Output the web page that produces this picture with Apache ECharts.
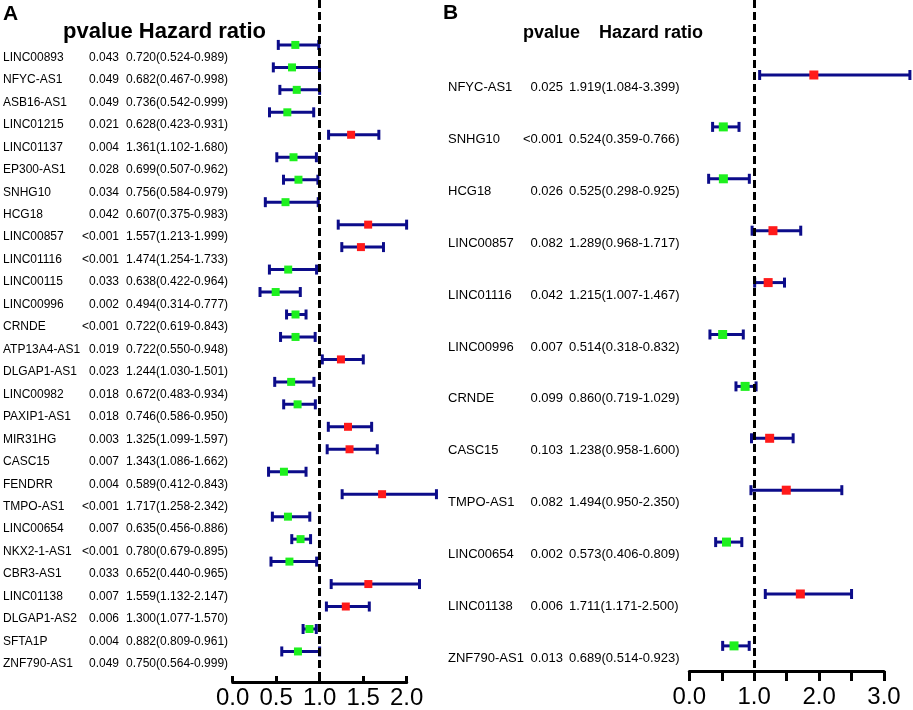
<!DOCTYPE html>
<html>
<head>
<meta charset="utf-8">
<script src="https://cdn.jsdelivr.net/npm/echarts@6/dist/echarts.min.js"></script>
<style>
html,body{margin:0;padding:0;background:#fff;}
#chart{width:913px;height:710px;}
</style>
</head>
<body>
<div id="chart"></div>
<script>
// ---------- Panel A data ----------
const genesA = ['LINC00893','NFYC-AS1','ASB16-AS1','LINC01215','LINC01137','EP300-AS1','SNHG10','HCG18','LINC00857','LINC01116','LINC00115','LINC00996','CRNDE','ATP13A4-AS1','DLGAP1-AS1','LINC00982','PAXIP1-AS1','MIR31HG','CASC15','FENDRR','TMPO-AS1','LINC00654','NKX2-1-AS1','CBR3-AS1','LINC01138','DLGAP1-AS2','SFTA1P','ZNF790-AS1'];
const pvalA = ['0.043','0.049','0.049','0.021','0.004','0.028','0.034','0.042','<0.001','<0.001','0.033','0.002','<0.001','0.019','0.023','0.018','0.018','0.003','0.007','0.004','<0.001','0.007','<0.001','0.033','0.007','0.006','0.004','0.049'];
const hrA   = [0.720,0.682,0.736,0.628,1.361,0.699,0.756,0.607,1.557,1.474,0.638,0.494,0.722,0.722,1.244,0.672,0.746,1.325,1.343,0.589,1.717,0.635,0.780,0.652,1.559,1.300,0.882,0.750];
const lowA  = [0.524,0.467,0.542,0.423,1.102,0.507,0.584,0.375,1.213,1.254,0.422,0.314,0.619,0.550,1.030,0.483,0.586,1.099,1.086,0.412,1.258,0.456,0.679,0.440,1.132,1.077,0.809,0.564];
const highA = [0.989,0.998,0.999,0.931,1.680,0.962,0.979,0.983,1.999,1.733,0.964,0.777,0.843,0.948,1.501,0.934,0.950,1.597,1.662,0.843,2.342,0.886,0.895,0.965,2.147,1.570,0.961,0.999];

// ---------- Panel B data ----------
const genesB = ['NFYC-AS1','SNHG10','HCG18','LINC00857','LINC01116','LINC00996','CRNDE','CASC15','TMPO-AS1','LINC00654','LINC01138','ZNF790-AS1'];
const pvalB = ['0.025','<0.001','0.026','0.082','0.042','0.007','0.099','0.103','0.082','0.002','0.006','0.013'];
const hrB   = [1.919,0.524,0.525,1.289,1.215,0.514,0.860,1.238,1.494,0.573,1.711,0.689];
const lowB  = [1.084,0.359,0.298,0.968,1.007,0.318,0.719,0.958,0.950,0.406,1.171,0.514];
const highB = [3.399,0.766,0.925,1.717,1.467,0.832,1.029,1.600,2.350,0.809,2.500,0.923];

const ticksA = [0, 0.5, 1, 1.5, 2];
const ticksB = [0, 0.5, 1, 1.5, 2, 2.5, 3];

const NAVY = '#0c0c8a', RED = '#ff1a1a', GREEN = '#1ef01e';
const FONT = '"Liberation Sans", Arial, Helvetica, sans-serif';

function fmtHR(h, l, u){ return h.toFixed(3) + '(' + l.toFixed(3) + '-' + u.toFixed(3) + ')'; }

function barData(hr, lo, hi){ return hr.map((h, i) => [i, h, lo[i], hi[i]]); }

function barRender(capH, size){
  return function(params, api){
    const i = api.value(0), hr = api.value(1), lo = api.value(2), hi = api.value(3);
    const pL = api.coord([lo, i]), pH = api.coord([hi, i]), pM = api.coord([hr, i]);
    const st = {stroke: NAVY, lineWidth: 3};
    return {type: 'group', children: [
      {type: 'line', shape: {x1: pL[0], y1: pL[1], x2: pH[0], y2: pH[1]}, style: st},
      {type: 'line', shape: {x1: pL[0], y1: pL[1] - capH/2, x2: pL[0], y2: pL[1] + capH/2}, style: st},
      {type: 'line', shape: {x1: pH[0], y1: pH[1] - capH/2, x2: pH[0], y2: pH[1] + capH/2}, style: st},
      {type: 'rect', shape: {x: pM[0] - size/2, y: pM[1] - size/2, width: size, height: size}, style: {fill: hr > 1 ? RED : GREEN}}
    ]};
  };
}

function textRender(genes, pv, hr, lo, hi, lay){
  return function(params, api){
    const i = api.value(1);
    const y = api.coord([0, i])[1] + lay.dy;
    const f = lay.size + 'px ' + FONT;
    return {type: 'group', children: [
      {type: 'text', style: {text: genes[i], x: lay.nameX, y: y, fill: '#000', font: f, textAlign: 'left', textVerticalAlign: 'middle'}},
      {type: 'text', style: {text: pv[i], x: lay.pRight, y: y, fill: '#000', font: f, textAlign: 'right', textVerticalAlign: 'middle'}},
      {type: 'text', style: {text: fmtHR(hr[i], lo[i], hi[i]), x: lay.hrLeft, y: y, fill: '#000', font: f, textAlign: 'left', textVerticalAlign: 'middle'}}
    ]};
  };
}

function xAxisFor(grid, max, ticks, labelAll, inside, tickLen, margin){
  return {
    type: 'value', gridIndex: grid, min: 0, max: max, interval: 0.5, position: 'bottom',
    axisLine: {show: true, onZero: false, lineStyle: {color: '#000', width: 3}},
    axisTick: {show: true, inside: inside, length: tickLen, lineStyle: {color: '#000', width: 3}},
    axisLabel: {
      color: '#000', fontSize: 24, fontFamily: FONT, margin: margin,
      formatter: v => (labelAll || Math.abs(v - Math.round(v)) < 1e-9) && ticks.indexOf(v) >= 0 ? v.toFixed(1) : ''
    },
    splitLine: {show: false}
  };
}

const refLine = {
  silent: true, symbol: ['none', 'none'], animation: false,
  label: {show: false},
  lineStyle: {color: '#000', width: 3, type: [8, 4]},
  data: [{xAxis: 1}]
};

const chart = echarts.init(document.getElementById('chart'), null, {renderer: 'canvas'});
chart.setOption({
  animation: false,
  backgroundColor: '#fff',
  grid: [
    {left: 232.7, top: 0, width: 174, height: 683},
    {left: 689.3, top: 0, width: 194.7, height: 671}
  ],
  xAxis: [
    xAxisFor(0, 2, ticksA, true, true, 6, 4),
    xAxisFor(1, 3, ticksB, false, false, 10, 14)
  ],
  yAxis: [
    {type: 'value', gridIndex: 0, inverse: true, min: -2, max: 28.36, show: false, splitLine: {show: false}},
    {type: 'value', gridIndex: 1, inverse: true, min: -1.445, max: 11.484, show: false, splitLine: {show: false}}
  ],
  graphic: [
    {type: 'text', left: 3, top: 4, style: {text: 'A', font: 'bold 21px ' + FONT, fill: '#000'}},
    {type: 'text', left: 443, top: 3, style: {text: 'B', font: 'bold 21px ' + FONT, fill: '#000'}},
    {type: 'text', left: 63, top: 21, style: {text: 'pvalue Hazard ratio', font: 'bold 22px ' + FONT, fill: '#000'}},
    {type: 'text', left: 523, top: 24, style: {text: 'pvalue', font: 'bold 18px ' + FONT, fill: '#000'}},
    {type: 'text', left: 599, top: 24, style: {text: 'Hazard ratio', font: 'bold 18px ' + FONT, fill: '#000'}}
  ],
  series: [
    {
      type: 'custom', name: 'A', xAxisIndex: 0, yAxisIndex: 0, clip: false,
      dimensions: ['row', 'hr', 'low', 'high'], encode: {x: [1, 2, 3], y: 0},
      renderItem: barRender(10, 8),
      data: barData(hrA, lowA, highA),
      markLine: refLine, z: 3
    },
    {
      type: 'custom', name: 'B', xAxisIndex: 1, yAxisIndex: 1, clip: false,
      dimensions: ['row', 'hr', 'low', 'high'], encode: {x: [1, 2, 3], y: 0},
      renderItem: barRender(10, 9),
      data: barData(hrB, lowB, highB),
      markLine: refLine, z: 3
    },
    {
      type: 'custom', name: 'textA', xAxisIndex: 0, yAxisIndex: 0, clip: false, silent: true,
      encode: {x: 0, y: 1},
      renderItem: textRender(genesA, pvalA, hrA, lowA, highA, {nameX: 3, pRight: 119, hrLeft: 126, dy: 12.5, size: 12}),
      data: genesA.map((g, i) => [0, i])
    },
    {
      type: 'custom', name: 'textB', xAxisIndex: 1, yAxisIndex: 1, clip: false, silent: true,
      encode: {x: 0, y: 1},
      renderItem: textRender(genesB, pvalB, hrB, lowB, highB, {nameX: 448, pRight: 563, hrLeft: 569, dy: 12.5, size: 13}),
      data: genesB.map((g, i) => [0, i])
    }
  ]
});
</script>
</body>
</html>
